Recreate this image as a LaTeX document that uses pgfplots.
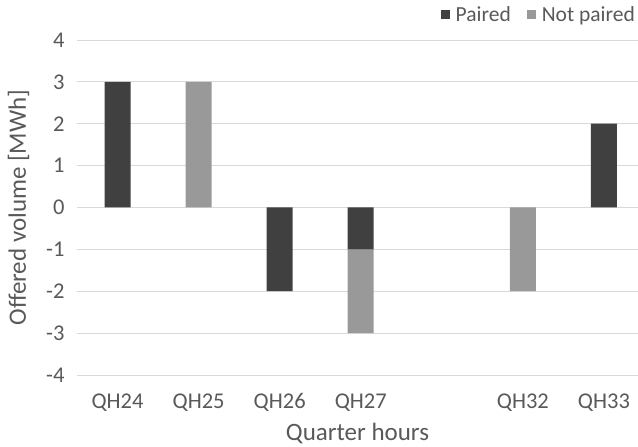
\documentclass[border=0pt]{standalone}
\usepackage{pgfplots}
\pgfplotsset{compat=1.18}
\usepackage{fontspec}
\setmainfont{Carlito}
\definecolor{txt}{HTML}{595959}
\definecolor{dark}{HTML}{404040}
\definecolor{light}{HTML}{999999}
\definecolor{gridc}{HTML}{D9D9D9}
\begin{document}
\begin{tikzpicture}
\useasboundingbox (-77pt,-72pt) rectangle (561pt,375pt);
\begin{axis}[
  scale only axis,
  width=561pt, height=335pt,
  ybar stacked,
  bar width=26pt,
  xmin=-0.5, xmax=6.42,
  ymin=-4, ymax=4,
  ytick={-4,-3,...,4},
  xtick={0,1,2,3,5,6},
  xticklabels={QH24,QH25,QH26,QH27,QH32,QH33},
  axis line style={draw=none},
  major tick length=0pt,
  ymajorgrids=true, xmajorgrids=false,
  grid style={draw=gridc, line width=0.8pt},
  tick label style={font=\fontsize{22.5}{26}\selectfont, text=txt},
  /pgf/number format/assume math mode=true,
  yticklabel style={xshift=-9pt},
  xticklabel style={yshift=-15pt},
  xlabel={Quarter hours},
  ylabel={Offered volume [MWh]},
  label style={font=\fontsize{25}{29}\selectfont, text=txt},
  xlabel style={yshift=-5pt},
  ylabel style={yshift=10pt},
  legend style={at={(1,1)}, anchor=south east, draw=none, fill=none,
    font=\fontsize{21.5}{25}\selectfont, text=txt, legend columns=2,
    yshift=13pt, xshift=2pt,
    /tikz/every even column/.append style={column sep=14pt}},
  legend image code/.code={\fill[#1] (0pt,-4.5pt) rectangle (9pt,4.5pt);},
]
\addplot[fill=dark, draw=none] coordinates {(0,3) (1,0) (2,-2) (3,-1) (5,0) (6,2)};
\addplot[fill=light, draw=none] coordinates {(0,0) (1,3) (2,0) (3,-2) (5,-2) (6,0)};
\legend{\hspace{4pt}Paired, \hspace{4pt}Not paired}
\end{axis}
\end{tikzpicture}
\end{document}
